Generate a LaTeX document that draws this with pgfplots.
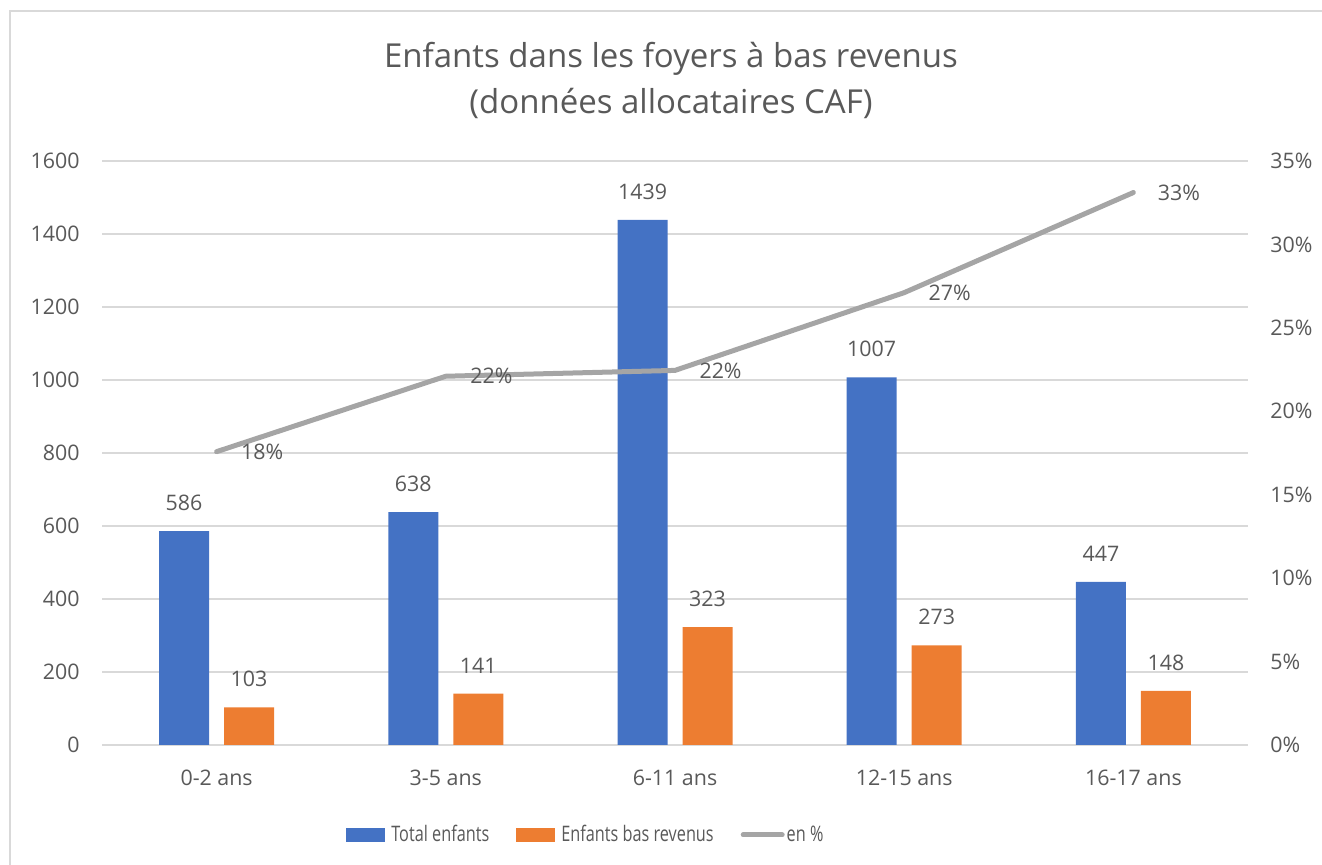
\documentclass[border=0pt]{standalone}
\usepackage{fontspec}
\setmainfont{Open Sans}
\usepackage{graphicx}
\usepackage{pgfplots}
\usepackage{pgfplotstable}
\pgfplotsset{compat=1.18}
\definecolor{cblue}{HTML}{4472C4}
\definecolor{corange}{HTML}{ED7D31}
\definecolor{cgray}{HTML}{A5A5A5}
\definecolor{ctext}{HTML}{595959}
\definecolor{cgrid}{HTML}{D9D9D9}

\pgfplotstableread{
x total bas pct
0 586 103 17.58
1 638 141 22.10
2 1439 323 22.45
3 1007 273 27.11
4 447 148 33.11
}\data

\newcommand{\smallfont}{\fontsize{10.7}{13}\selectfont}
\newcommand{\leg}[1]{\scalebox{0.76}[1]{#1}}

\begin{document}
\begin{tikzpicture}
\path[use as bounding box] (0,0) rectangle (661pt,432.5pt);
\draw[cgrid, line width=1pt] (5pt,0) -- (5pt,427pt) -- (661pt,427pt);
\node[text=ctext, align=center, font=\fontsize{16.5}{23}\selectfont] at (335.5pt,392.5pt)
  {Enfants dans les foyers à bas revenus\\(données allocataires CAF)};

\begin{axis}[
  at={(51pt,60pt)}, anchor=south west,
  width=573pt, height=292pt, scale only axis,
  xmin=-0.5, xmax=4.5, ymin=0, ymax=1600,
  xtick={0,1,2,3,4},
  xticklabels={0-2 ans,3-5 ans,6-11 ans,12-15 ans,16-17 ans},
  ytick={0,200,...,1600},
  axis x line*=bottom, axis y line*=left,
  x axis line style={cgrid, line width=0.75pt, -},
  y axis line style={draw=none},
  major tick length=0,
  ymajorgrids, major grid style={cgrid, line width=0.75pt},
  tick label style={font=\smallfont, text=ctext},
  yticklabel style={anchor=east, inner sep=0pt, xshift=-11pt},
  xticklabel style={anchor=base, inner sep=0pt, yshift=-20.5pt},
  /pgf/number format/assume math mode=true,
  /pgf/number format/1000 sep={},
  scaled y ticks=false,
  legend columns=3,
  legend style={at={(0.424,-0.154)}, anchor=center, draw=none, fill=none,
    font=\smallfont, text=ctext, inner sep=0pt,
    nodes={inner sep=3pt},
    /tikz/every odd column/.append style={column sep=0pt},
    /tikz/every even column/.append style={column sep=10.5pt}},
]
\addplot[ybar, bar width=25pt, bar shift=-16.25pt, fill=cblue, draw=none,
  nodes near coords,
  nodes near coords style={anchor=south, inner sep=0pt, xshift=-16.25pt, yshift=10pt, font=\smallfont, text=ctext},
  legend image code/.code={\fill[cblue] (0pt,-3.5pt) rectangle (19.5pt,3.5pt);}]
  table[x=x, y=total]{\data};
\addlegendentry{\leg{Total enfants}}
\addplot[ybar, bar width=25pt, bar shift=16.25pt, fill=corange, draw=none,
  nodes near coords,
  nodes near coords style={anchor=south, inner sep=0pt, xshift=16.25pt, yshift=10pt, font=\smallfont, text=ctext},
  legend image code/.code={\fill[corange] (0pt,-3.5pt) rectangle (19.5pt,3.5pt);}]
  table[x=x, y=bas]{\data};
\addlegendentry{\leg{Enfants bas revenus}}
\addlegendimage{legend image code/.code={\draw[cgray, line width=2.5pt, line cap=round] (1.25pt,0pt) -- (20.75pt,0pt);}}
\addlegendentry{\hspace{-2pt}\leg{en \%}}
\end{axis}

\begin{axis}[
  at={(51pt,60pt)}, anchor=south west,
  width=573pt, height=292pt, scale only axis,
  xmin=-0.5, xmax=4.5, ymin=0, ymax=35,
  ytick={0,5,...,35},
  yticklabel={\pgfmathprintnumber{\tick}\%},
  axis x line=none, axis y line*=right,
  y axis line style={draw=none},
  major tick length=0,
  tick label style={font=\smallfont, text=ctext},
  yticklabel style={anchor=west, inner sep=0pt, xshift=11pt},
  /pgf/number format/assume math mode=true,
]
\addplot[cgray, line width=2.5pt, line cap=round, line join=round, mark=none,
  nodes near coords={\pgfmathprintnumber[fixed,precision=0]{\pgfplotspointmeta}\%},
  nodes near coords style={anchor=west, inner sep=0pt, xshift=11pt, font=\smallfont, text=ctext}]
  table[x=x, y=pct]{\data};
\end{axis}
\end{tikzpicture}
\end{document}
